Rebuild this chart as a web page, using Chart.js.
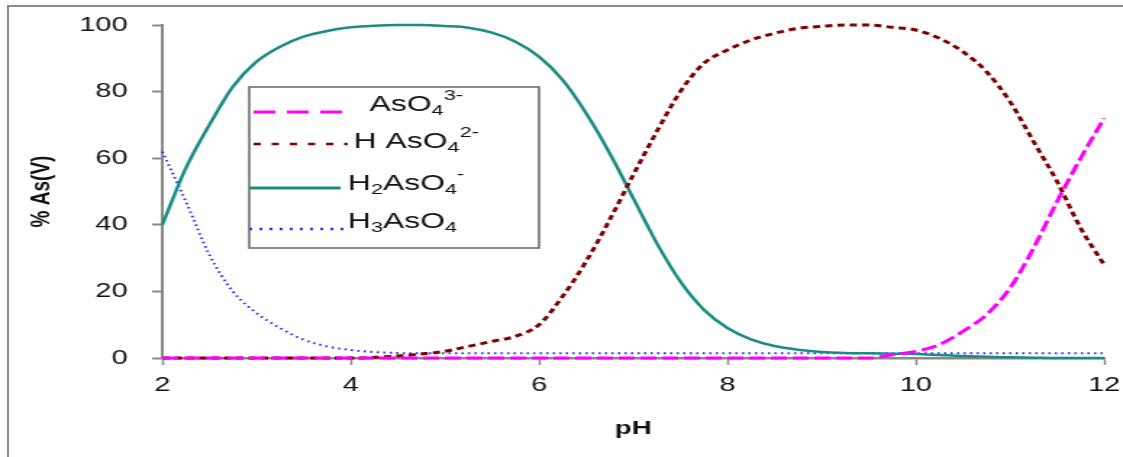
<!DOCTYPE html>
<html>
<head>
<meta charset="utf-8">
<script src="https://cdn.jsdelivr.net/npm/chart.js@4.4.1/dist/chart.umd.min.js"></script>
<style>
  html, body { margin: 0; padding: 0; background: #fff; overflow: hidden; width: 1123px; height: 457px; }
  #frame { position: absolute; left: 7px; top: 5px; width: 1200px; height: 600px; border: 2px solid #8c8c8c; }
  #myChart { position: absolute; left: 0; top: 0; transform: scaleX(1.449); transform-origin: 0 0; }
</style>
</head>
<body>
<div id="frame"></div>
<canvas id="myChart" width="775" height="457"></canvas>
<script>
const phValues = [2, 2.25, 2.5, 2.75, 3, 3.25, 3.5, 3.75, 4, 4.25, 4.5, 4.75, 5, 5.25, 5.5, 5.75,
    6, 6.25, 6.5, 6.75, 7, 7.25, 7.5, 7.75, 8, 8.25, 8.5, 8.75, 9, 9.25, 9.5, 9.75,
    10, 10.25, 10.5, 10.75, 11, 11.25, 11.5, 11.75, 12];

// % As(V)
const asO4 = [0, 0, 0, 0, 0, 0, 0, 0, 0, 0, 0, 0, 0, 0, 0, 0,
    0, 0, 0, 0, 0, 0, 0, 0, 0, 0, 0, 0, 0, 0, 0, 1,
    2, 4, 8, 13, 21, 33, 47, 60, 72];
const hAsO4 = [0, 0, 0, 0, 0, 0, 0, 0, 0, 0.2, 0.6, 1.2, 2, 3.5, 5, 6.5,
    10, 18.5, 29, 41.5, 55, 68, 80, 88.5, 92.5, 95.5, 97.5, 99, 99.6, 100, 100, 99.3,
    98.5, 96, 92, 86, 77, 65, 53, 39, 28];
const h2AsO4 = [40, 57, 70, 81.5, 89, 93.5, 96.5, 98.2, 99.3, 99.8, 100, 100, 99.7, 99.2, 97.7, 95,
    90.5, 83.5, 73.5, 61.5, 48, 34.5, 23, 14.5, 9, 5.6, 3.6, 2.5, 1.8, 1.5, 1.4, 1.3,
    1.2, 0.9, 0.6, 0.4, 0.2, 0.1, 0, 0, 0];
const h3AsO4 = [62, 47, 31, 20, 13.5, 9, 5.5, 3.5, 2.4, 1.8, 1.5, 1.4, 1.4, 1.4, 1.4, 1.4,
    1.4, 1.4, 1.4, 1.4, 1.4, 1.4, 1.4, 1.4, 1.4, 1.4, 1.4, 1.4, 1.4, 1.4, 1.4, 1.4,
    1.4, 1.4, 1.4, 1.4, 1.4, 1.4, 1.4, 1.4, 1.4];

const xTicks = [2, 4, 6, 8, 10, 12];
const yTicks = [0, 20, 40, 60, 80, 100];

// legend text pieces: [text, 'sub' | 'sup' | '']
const legendTexts = [
    [['AsO', ''], ['4', 'sub'], ['3-', 'sup']],
    [['H AsO', ''], ['4', 'sub'], ['2-', 'sup']],
    [['H', ''], ['2', 'sub'], ['AsO', ''], ['4', 'sub'], ['-', 'sup']],
    [['H', ''], ['3', 'sub'], ['AsO', ''], ['4', 'sub']]
];

const FONT = "'Liberation Sans', Arial, sans-serif";

function toPoints(ys) {
    return ys.map((y, i) => ({x: phValues[i], y: y}));
}

const legendBox = {
    id: 'legendBox',
    afterDraw(chart) {
        const ctx = chart.ctx;
        ctx.save();
        ctx.strokeStyle = '#6e6e6e';
        ctx.lineWidth = 1.6;
        ctx.strokeRect(172, 87, 200, 161);

        const rows = [
            {x0: 175, x1: 237, y: 112, tx: 255, ty: 111},
            {x0: 175, x1: 240, y: 144, tx: 244, ty: 148},
            {x0: 172, x1: 235, y: 188, tx: 240, ty: 190},
            {x0: 172, x1: 237, y: 229, tx: 240, ty: 228}
        ];
        chart.data.datasets.forEach((ds, i) => {
            const r = rows[i];
            ctx.beginPath();
            ctx.strokeStyle = ds.borderColor;
            ctx.lineWidth = ds.legendWidth;
            ctx.setLineDash(ds.legendDash);
            ctx.moveTo(r.x0, r.y);
            ctx.lineTo(r.x1, r.y);
            ctx.stroke();
            ctx.setLineDash([]);

            let x = r.tx;
            ctx.fillStyle = '#111';
            ctx.textBaseline = 'alphabetic';
            legendTexts[i].forEach(([txt, kind]) => {
                let y = r.ty;
                if (kind === 'sub') { ctx.font = '15px ' + FONT; y += 4; }
                else if (kind === 'sup') { ctx.font = '15px ' + FONT; y -= 11; }
                else { ctx.font = '22px ' + FONT; }
                ctx.fillText(txt, x, y);
                x += ctx.measureText(txt).width;
            });
        });
        ctx.restore();
    }
};

new Chart(document.getElementById('myChart'), {
    type: 'line',
    data: {
        datasets: [
            {
                label: 'AsO4 3-',
                data: toPoints(asO4),
                borderColor: '#ff00ff',
                borderWidth: 3,
                borderDash: [11, 4],
                legendDash: [15, 8],
                legendWidth: 3
            },
            {
                label: 'H AsO4 2-',
                data: toPoints(hAsO4),
                borderColor: '#800000',
                borderWidth: 3,
                borderDash: [5, 3.5],
                legendDash: [5, 7.5],
                legendWidth: 2.5
            },
            {
                label: 'H2AsO4 -',
                data: toPoints(h2AsO4),
                borderColor: '#1b8c84',
                borderWidth: 2.5,
                borderDash: [],
                legendDash: [],
                legendWidth: 3
            },
            {
                label: 'H3AsO4',
                data: toPoints(h3AsO4),
                borderColor: '#2b2bff',
                borderWidth: 2,
                borderDash: [1.5, 3],
                legendDash: [2, 5],
                legendWidth: 2.5
            }
        ]
    },
    options: {
        responsive: false,
        animation: false,
        layout: {autoPadding: false, padding: {left: 0, right: 13, top: 25, bottom: 0}},
        elements: {
            point: {radius: 0},
            line: {cubicInterpolationMode: 'monotone', fill: false}
        },
        datasets: {line: {clip: false}},
        plugins: {legend: {display: false}, tooltip: {enabled: false}},
        scales: {
            x: {
                type: 'linear',
                min: 2,
                max: 12,
                afterBuildTicks(s) { s.ticks = xTicks.map(v => ({value: v})); },
                afterFit(s) {
                    s.height = 99;
                    s.paddingLeft = 0;
                    s.paddingRight = 0;
                },
                ticks: {color: '#111', font: {family: FONT, size: 20}, padding: 8},
                grid: {drawOnChartArea: false, color: '#888', tickLength: 7, tickWidth: 1.5},
                border: {color: '#888', width: 2.5},
                title: {
                    display: true, text: 'pH', color: '#111',
                    font: {family: FONT, size: 19, weight: 'bold'},
                    padding: {top: 0, bottom: 17}
                }
            },
            y: {
                min: 0,
                max: 100,
                afterBuildTicks(s) { s.ticks = yTicks.map(v => ({value: v})); },
                afterFit(s) {
                    s.width = 112;
                    s.paddingTop = 0;
                    s.paddingBottom = 0;
                },
                ticks: {color: '#111', font: {family: FONT, size: 20}, padding: 17},
                grid: {drawOnChartArea: false, color: '#888', tickLength: 7, tickWidth: 2},
                border: {color: '#888', width: 2},
                title: {
                    display: true, text: '% As(V)', color: '#111',
                    font: {family: FONT, size: 19, weight: 'bold'},
                    padding: {top: 17, bottom: 0}
                }
            }
        }
    },
    plugins: [legendBox]
});
</script>
</body>
</html>
